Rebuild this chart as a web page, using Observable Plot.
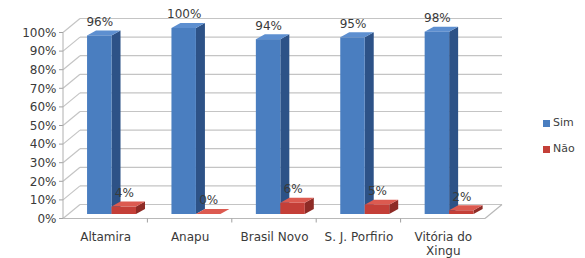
<!DOCTYPE html>
<html><head><meta charset="utf-8">
<script src="https://cdn.jsdelivr.net/npm/d3@7"></script>
<script src="https://cdn.jsdelivr.net/npm/@observablehq/plot@0.6"></script>
<style>
body{margin:0;background:#fff;font-family:"DejaVu Sans",sans-serif;}
#wrap{position:relative;width:585px;height:258px;overflow:hidden;}
.legend{position:absolute;left:543px;font-size:11px;color:#404040;display:flex;align-items:center;line-height:12px;}
.legend .sw{width:7px;height:7px;margin-right:3px;display:inline-block;}
</style></head><body><div id="wrap"></div>
<script>
const categories = ["Altamira", "Anapu", "Brasil Novo", "S. J. Porfirio", "Vitória do Xingu"];
const simValues = [96, 100, 94, 95, 98];
const naoValues = [4, 0, 6, 5, 2];
const seriesNames = ["Sim", "Não"];
const yTicks = [0, 10, 20, 30, 40, 50, 60, 70, 80, 90, 100];
const tickLabels = ["0%", "10%", "20%", "30%", "40%", "50%", "60%", "70%", "80%", "90%", "100%"];

const colors = {
  Sim: {front: "#4a7ec0", side: "#2d5287", top: "#5d8fd0"},
  "Não": {front: "#c43f38", side: "#8e2b26", top: "#dc5a50"}
};
const offset = {Sim: 0.285, "Não": 0.575};
const barW = 0.29;
const depth = {dx: 9, dy: -5};
const wall = {dx: 17, frontDy: 4.5, backDy: -9.5};

const rows = categories.flatMap((c, i) => [
  {cat: c, i, series: seriesNames[0], value: simValues[i]},
  {cat: c, i, series: seriesNames[1], value: naoValues[i]}
]);

const walls = (index, {x, y}) => {
  const g = d3.create("svg:g").attr("fill", "none");
  const X0 = x(0), X1 = x(categories.length);
  const line = (x1, y1, x2, y2, c = "#c4c4c4", w = 1.2) =>
    g.append("line").attr("x1", x1).attr("y1", y1).attr("x2", x2).attr("y2", y2).attr("stroke", c).attr("stroke-width", w);
  for (const v of yTicks) {
    line(X0 + wall.dx, y(v) + wall.backDy, X1 + wall.dx, y(v) + wall.backDy);
    line(X0, y(v) + wall.frontDy, X0 + wall.dx, y(v) + wall.backDy);
    line(X0 - 4, y(v) + wall.frontDy, X0, y(v) + wall.frontDy, "#a0a0a0", 1);
  }
  line(X0, y(0) + wall.frontDy, X0, y(100) + wall.frontDy, "#b0b0b0", 1);
  line(X0, y(0) + wall.frontDy, X1, y(0) + wall.frontDy, "#b8b8b8", 1.2);
  line(X1, y(0) + wall.frontDy, X1 + wall.dx, y(0) + wall.backDy, "#b8b8b8", 1.2);
  for (let i = 1; i < categories.length; i++) {
    line(x(i), y(0) + wall.frontDy, x(i), y(0) + wall.frontDy + 4, "#a0a0a0", 1);
  }
  return g.node();
};

const faces = (index, {x, y}) => {
  const g = d3.create("svg:g");
  for (const d of rows) {
    const xl = x(d.i + offset[d.series]), xr = x(d.i + offset[d.series] + barW);
    const yt = y(d.value), yb = y(0);
    const c = colors[d.series];
    g.append("polygon")
      .attr("points", [[xr, yb], [xr + depth.dx, yb + depth.dy], [xr + depth.dx, yt + depth.dy], [xr, yt]].join(" "))
      .attr("fill", c.side);
    g.append("polygon")
      .attr("points", [[xl, yt], [xr, yt], [xr + depth.dx, yt + depth.dy], [xl + depth.dx, yt + depth.dy]].join(" "))
      .attr("fill", c.top);
  }
  return g.node();
};

const chart = Plot.plot({
  width: 585,
  height: 258,
  marginLeft: 63,
  marginRight: 100,
  marginTop: 28,
  marginBottom: 44,
  style: {fontFamily: "DejaVu Sans, sans-serif", background: "transparent"},
  x: {type: "linear", domain: [0, categories.length], axis: null},
  y: {type: "linear", domain: [0, 100], axis: null},
  marks: [
    walls,
    faces,
    Plot.rectY(rows, {
      x1: d => d.i + offset[d.series],
      x2: d => d.i + offset[d.series] + barW,
      y1: 0, y2: "value",
      fill: d => colors[d.series].front
    }),
    Plot.text(rows, {
      x: d => d.i + offset[d.series] + barW / 2,
      y: "value", text: d => d.value + "%",
      dy: -14, fontSize: 12, fill: "#3a3a3a"
    }),
    Plot.text(yTicks, {
      x: 0, y: d => d, text: (d, i) => tickLabels[i],
      textAnchor: "end", dx: -7, dy: 4.5, fontSize: 12, fill: "#3a3a3a"
    }),
    Plot.text(categories, {
      x: (d, i) => i + 0.5, y: 0, text: d => d,
      lineAnchor: "top", dy: 16, lineWidth: 7, lineHeight: 1.2, fontSize: 12, fill: "#3a3a3a"
    })
  ]
});

const wrap = document.getElementById("wrap");
wrap.appendChild(chart);
const legendTops = [117, 143];
seriesNames.forEach((s, k) => {
  const div = document.createElement("div");
  div.className = "legend";
  div.style.top = legendTops[k] + "px";
  div.innerHTML = `<span class="sw" style="background:${colors[s].front}"></span>${s}`;
  wrap.appendChild(div);
});
</script></body></html>
